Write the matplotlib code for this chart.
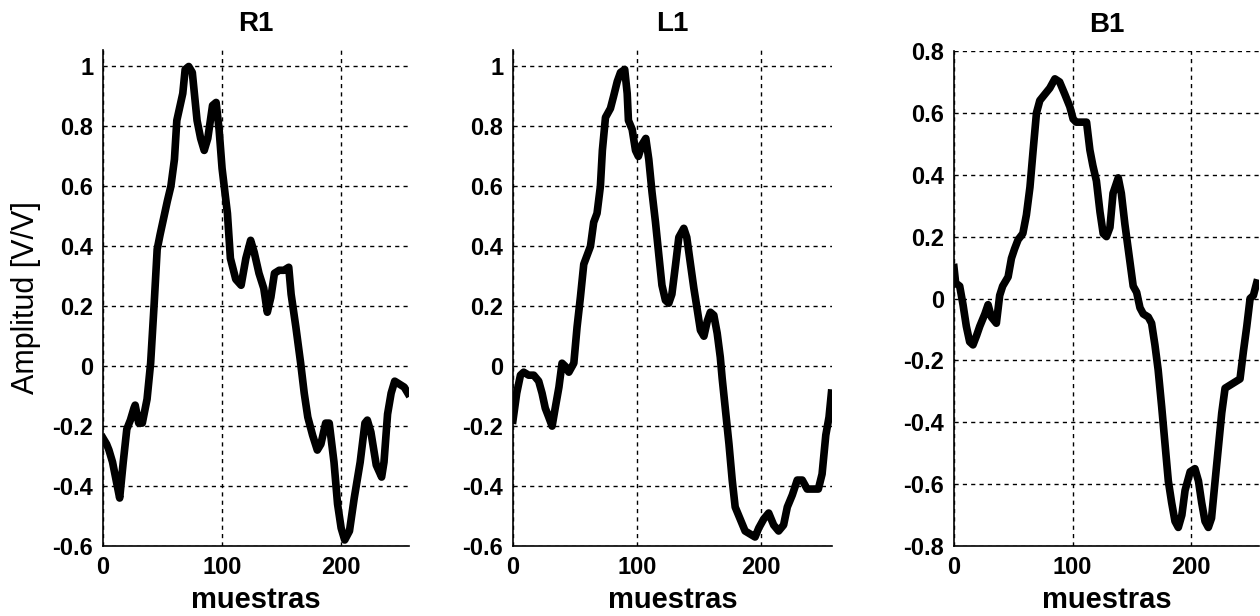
import matplotlib
matplotlib.use("Agg")
import matplotlib.pyplot as plt
import numpy as np

plt.rcParams["font.family"] = ["Liberation Sans", "DejaVu Sans"]

# R1 samples / amplitude
r1_x = [0, 3, 5, 8, 13, 14, 17, 20, 23, 26, 27, 30, 33, 37, 40, 43, 45.5, 48, 54, 57,
        60, 62, 67, 69, 72, 75, 79, 82, 85, 88, 92, 95, 97.5, 100, 104.5, 107, 111.5,
        116, 120, 124, 127, 131, 135, 138, 141, 144, 148, 152, 156, 158, 162, 166, 169,
        172, 176, 180, 183, 187, 190, 194, 197, 200, 203, 207, 211, 216, 220, 222, 225,
        229.5, 234, 236, 239, 242, 245, 249, 253, 256]
r1_y = [-0.24, -0.26, -0.28, -0.32, -0.42, -0.44, -0.32, -0.21, -0.18, -0.14, -0.13,
        -0.19, -0.19, -0.11, 0.01, 0.21, 0.39, 0.44, 0.55, 0.60, 0.69, 0.82, 0.91, 0.99,
        1.00, 0.98, 0.82, 0.76, 0.72, 0.76, 0.87, 0.88, 0.79, 0.66, 0.51, 0.36, 0.29,
        0.27, 0.36, 0.42, 0.38, 0.31, 0.26, 0.18, 0.23, 0.31, 0.32, 0.32, 0.33, 0.24,
        0.13, 0.01, -0.09, -0.17, -0.23, -0.28, -0.26, -0.19, -0.19, -0.32, -0.46, -0.54,
        -0.58, -0.55, -0.44, -0.32, -0.19, -0.18, -0.22, -0.33, -0.37, -0.32, -0.16,
        -0.09, -0.05, -0.06, -0.07, -0.09]

# L1
l1_x = [0, 3, 6, 8.6, 12.6, 16.7, 20.7, 23.4, 26, 28.8, 31.5, 34, 37, 39.5, 42, 45, 49,
        51.6, 54.3, 57, 59.7, 62.4, 65, 67.7, 70.4, 72, 74.5, 78.5, 81, 84, 86.6, 90, 92,
        93, 96, 98.7, 101, 104, 107, 109.4, 112, 114.8, 117.5, 120, 122.8, 125.5, 128,
        131, 133.6, 137.6, 140, 143, 145.7, 148, 151, 153.8, 156.5, 159, 161.8, 164.5,
        167, 168.5, 171, 174, 176.6, 179, 182, 185, 187, 191, 195, 198, 202, 206, 210,
        214, 218, 221, 225, 229, 233, 237, 241, 246, 249, 252, 254.6, 256.5]
l1_y = [-0.18, -0.09, -0.03, -0.02, -0.03, -0.03, -0.05, -0.09, -0.14, -0.17, -0.20,
        -0.14, -0.07, 0.01, 0.00, -0.02, 0.01, 0.13, 0.23, 0.34, 0.37, 0.40, 0.48, 0.51,
        0.60, 0.72, 0.83, 0.86, 0.90, 0.95, 0.98, 0.99, 0.91, 0.82, 0.79, 0.72, 0.70,
        0.74, 0.76, 0.69, 0.58, 0.48, 0.37, 0.27, 0.22, 0.21, 0.24, 0.34, 0.43, 0.46,
        0.43, 0.34, 0.26, 0.20, 0.12, 0.10, 0.15, 0.18, 0.17, 0.11, 0.03, -0.04, -0.14,
        -0.26, -0.38, -0.47, -0.50, -0.53, -0.55, -0.56, -0.57, -0.54, -0.51, -0.49,
        -0.53, -0.55, -0.53, -0.47, -0.43, -0.38, -0.38, -0.41, -0.41, -0.41, -0.36,
        -0.23, -0.17, -0.09]

# B1
b1_x = [0, 1.4, 4.8, 7.6, 10.4, 13.2, 16, 19, 21.7, 26, 28.7, 31.5, 35.7, 38.5, 41,
        45.6, 48.4, 51, 54, 58, 61, 64, 66.7, 69.5, 72.3, 76.5, 80.7, 85, 89, 93.4,
        97.6, 100.4, 103, 107.5, 111.7, 114.5, 117, 120, 123, 125.7, 128.5, 131.4, 134,
        138.4, 141, 144, 146.8, 151, 153.9, 156.7, 159.5, 163.7, 166.5, 169.3, 172, 175,
        177.8, 180.6, 183.4, 186.2, 189, 192, 194.7, 199, 203, 206, 208.7, 211.5, 214.3,
        217, 220, 222.8, 225.6, 228.4, 232.6, 236.8, 241, 243.9, 246.7, 249.5, 252.3, 255]
b1_y = [0.10, 0.05, 0.04, -0.02, -0.09, -0.14, -0.15, -0.12, -0.09, -0.05, -0.02, -0.06,
        -0.08, 0.01, 0.04, 0.07, 0.13, 0.16, 0.19, 0.21, 0.27, 0.36, 0.48, 0.60, 0.64,
        0.66, 0.68, 0.71, 0.70, 0.66, 0.62, 0.58, 0.57, 0.57, 0.57, 0.48, 0.43, 0.38,
        0.28, 0.21, 0.20, 0.23, 0.34, 0.39, 0.34, 0.24, 0.16, 0.04, 0.02, -0.03, -0.05,
        -0.06, -0.08, -0.15, -0.23, -0.35, -0.47, -0.59, -0.66, -0.72, -0.74, -0.70,
        -0.62, -0.56, -0.55, -0.59, -0.66, -0.72, -0.74, -0.71, -0.59, -0.48, -0.37,
        -0.29, -0.28, -0.27, -0.26, -0.17, -0.09, 0.00, 0.01, 0.05]

titles = ["R1", "L1", "B1"]
x_ticks = [0, 100, 200]
y_ticks_rl = [-0.6, -0.4, -0.2, 0, 0.2, 0.4, 0.6, 0.8, 1]
y_ticks_b = [-0.8, -0.6, -0.4, -0.2, 0, 0.2, 0.4, 0.6, 0.8]

W, H = 1260, 616
fig = plt.figure(figsize=(W / 100, H / 100), dpi=100)
# pixel boxes: left, right, top, bottom
pix = [(103, 409, 50, 546), (513, 832, 50, 546), (954, 1259, 51, 546)]
series = [(r1_x, r1_y), (l1_x, l1_y), (b1_x, b1_y)]
ylims = [(-0.6, 1.055), (-0.6, 1.055), (-0.8, 0.8)]
yticks = [y_ticks_rl, y_ticks_rl, y_ticks_b]

for i, ((l, r, t, b), (xs, ys)) in enumerate(zip(pix, series)):
    ax = fig.add_axes([l / W, 1 - b / H, (r - l) / W, (b - t) / H])
    ax.plot(xs, ys, color="black", linewidth=5.5, solid_joinstyle="round")
    ax.set_xlim(0, 257)
    ax.set_ylim(*ylims[i])
    ax.set_xticks(x_ticks)
    ax.set_xticklabels([str(v) for v in x_ticks], fontweight="bold", fontsize=17)
    ax.set_yticks(yticks[i])
    ax.set_yticklabels([f"{v:g}" for v in yticks[i]], fontweight="bold", fontsize=17)
    ax.grid(True, color="black", linestyle=(0, (3, 3)), linewidth=1.0)
    ax.tick_params(direction="in", length=0, pad=7)
    ax.spines[["top", "right"]].set_visible(False)
    ax.spines[["left", "bottom"]].set_linewidth(1.2)
    ax.set_title(titles[i], fontsize=20, fontweight="bold", pad=14)
    ax.set_xlabel("muestras", fontsize=21, fontweight="bold", labelpad=5)
    if i == 0:
        ax.set_ylabel("Amplitud [V/V]", fontsize=22, labelpad=8)

fig.savefig("out.png", dpi=100)
plt.close(fig)
